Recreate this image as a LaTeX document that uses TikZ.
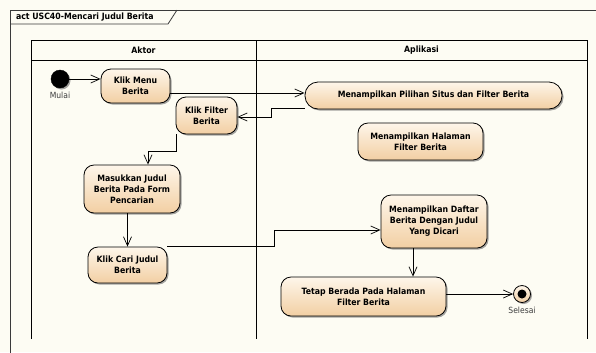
\documentclass[tikz,border=0pt]{standalone}
\usepackage{fontspec}
\setmainfont{DejaVu Sans Condensed}
\usetikzlibrary{arrows.meta,shadows,calc}

\definecolor{paper}{HTML}{FDFCF3}
\definecolor{acttop}{HTML}{FEF6EA}
\definecolor{actbot}{HTML}{F2CFA3}
\definecolor{framegrey}{HTML}{3A3A3A}
\definecolor{labelgrey}{HTML}{3C3C3C}

\tikzset{
  x=1bp, y=-1bp,
  shade/.style={drop shadow={shadow xshift=1.5bp, shadow yshift=-1.5bp, opacity=0.5, fill=black!70}},
  activity/.style={draw=black, line width=0.8bp, rounded corners=10bp,
    top color=acttop, bottom color=actbot, align=center, inner sep=0pt,
    font=\fontsize{8.7}{11}\selectfont\bfseries, shade},
  flow/.style={draw=black, line width=0.7bp,
    -{Straight Barb[length=9bp,width=8bp,line width=0.7bp]}},
  lane/.style={draw=black, line width=0.8bp},
  header/.style={font=\fontsize{8.7}{10}\selectfont\bfseries},
  caption/.style={font=\fontsize{8.5}{10}\selectfont, text=labelgrey},
}

\begin{document}
\begin{tikzpicture}
  \useasboundingbox (0,0) rectangle (596,352);
  \fill[paper] (0,0) rectangle (596,352);

  % outer activity frame, running past the page edge
  \begin{scope}
    \clip (0,0) rectangle (596,352);
    \draw[framegrey, line width=0.8bp] (10,380) -- (10,10) -- (620,10);
  \end{scope}
  \draw[framegrey, line width=0.8bp] (10,24) -- (168,24) -- (177,10);
  \node[header, anchor=west] (title) at (12.5,17.5) {act USC40-Mencari Judul Berita};

  % swimlanes
  \draw[lane] (31,339) -- (31,40) -- (587,40) -- (587,339);
  \draw[lane] (31,60) -- (587,60);
  \draw[lane] (256,40) -- (256,339);
  \node[header] (aktor) at (143.5,50) {Aktor};
  \node[header] (aplikasi) at (421.5,50) {Aplikasi};

  % start and final nodes
  \node[circle, fill=black, draw=black, minimum size=18bp, inner sep=0pt, shade] (start) at (60,79) {};
  \node[caption, below=0.3bp] (mulai) at (start.south) {Mulai};
  \node[circle, draw=black, line width=0.8bp, top color=acttop, bottom color=actbot,
        minimum size=17bp, inner sep=0pt, shade] (end) at (522,294) {};
  \fill[black] (end.center) circle (4.5bp);
  \node[caption, below=0.3bp] (selesai) at (end.south) {Selesai};

  % actions
  \node[activity, minimum width=69bp, minimum height=34bp] (kmb) at (135.5,86) {Klik Menu\\Berita};
  \node[activity, minimum width=61bp, minimum height=37bp] (kfb) at (206.5,115.5) {Klik Filter\\Berita};
  \node[activity, minimum width=257bp, minimum height=27bp, rounded corners=13bp] (mps) at (433.5,95.5) {Menampilkan Pilihan Situs dan Filter Berita};
  \node[activity, minimum width=125bp, minimum height=37bp] (mhf) at (420.5,141.5) {Menampilkan Halaman\\Filter Berita};
  \node[activity, minimum width=96bp, minimum height=48bp] (mjb) at (132,189) {Masukkan Judul\\Berita Pada Form\\Pencarian};
  \node[activity, minimum width=79bp, minimum height=36bp] (kcj) at (127.5,265) {Klik Cari Judul\\Berita};
  \node[activity, minimum width=106bp, minimum height=53bp] (mdb) at (434,221.5) {Menampilkan Daftar\\Berita Dengan Judul\\Yang Dicari};
  \node[activity, minimum width=165bp, minimum height=39bp] (tbp) at (363.5,296.5) {Tetap Berada Pada Halaman\\Filter Berita};

  % connector end points
  \coordinate (kmbout) at ([yshift=-7bp]kmb.east);
  \coordinate (mpsout) at ([yshift=1bp]mps.south west);
  \coordinate (kfbin) at ([yshift=-1.5bp]kfb.east);
  \coordinate (kfbout) at ([xshift=1bp]kfb.south west);
  \coordinate (mjbin) at ([xshift=16bp]mjb.north);
  \coordinate (mdbin) at ([yshift=-8.5bp]mdb.west);
  \coordinate (mdbout) at ([xshift=-21bp]mdb.south);

  % control flows
  \draw[flow] (start.east) -- (start.east -| kmb.west);
  \draw[flow] (kmbout) -- (kmbout -| mps.west);
  \draw[flow] (mpsout) -- ++(-33,0) |- (kfbin);
  \draw[flow] (kfbout) -- ++(0,17) -| (mjbin);
  \draw[flow] (kcj.north |- mjb.south) -- (kcj.north);
  \draw[flow] (kcj.north east) -- ++(107,0) |- (mdbin);
  \draw[flow] (mdbout) -- (mdbout |- tbp.north);
  \draw[flow] (end.west -| tbp.east) -- (end.west);
\end{tikzpicture}
\end{document}
